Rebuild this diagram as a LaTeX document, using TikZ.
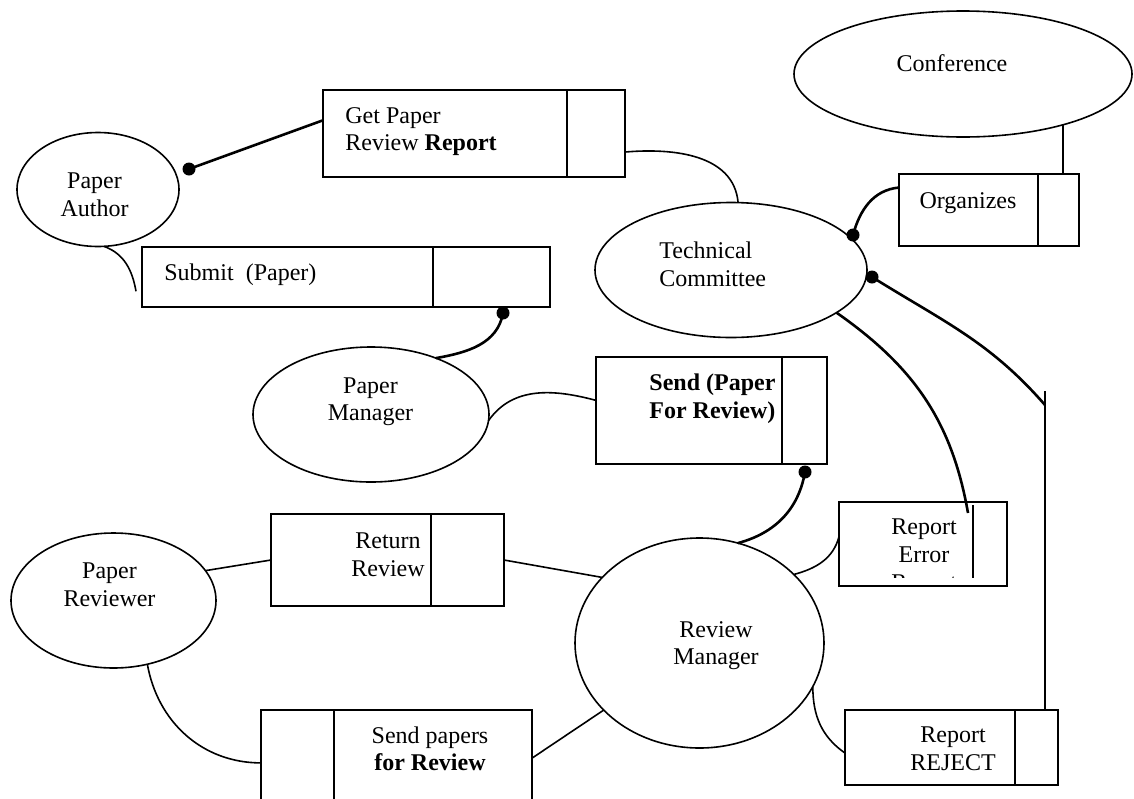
\documentclass[tikz,border=0pt]{standalone}
\usepackage{fontspec}
\setmainfont{Liberation Serif}
\usetikzlibrary{shapes.geometric}

\begin{document}
\begin{tikzpicture}[x=0.5pt,y=-0.5pt,
  entity/.style={draw,ellipse,line width=0.8pt,inner sep=0pt,outer sep=0pt},
  rel/.style={draw,rectangle,line width=1pt,inner sep=0pt,outer sep=0pt},
  lbl/.style={inner sep=0pt,align=center,font=\fontsize{12}{13.8}\selectfont},
  link/.style={line width=0.8pt},
  heavy/.style={line width=1.3pt},
  dot/.style={circle,fill,inner sep=0pt,minimum size=6.5pt}]
\useasboundingbox (0,0) rectangle (1134,798);
\clip (0,0) rectangle (1134,798);

\node[entity,minimum width=81pt,minimum height=57pt] (author) at (98,189.5) {};
\node[entity,minimum width=169pt,minimum height=63pt] (conf) at (963,74) {};
\node[entity,minimum width=136pt,minimum height=67.5pt] (tc) at (731,270) {};
\node[entity,minimum width=118pt,minimum height=67.5pt] (pm) at (371,414.5) {};
\node[entity,minimum width=102.5pt,minimum height=67.5pt] (reviewer) at (113.5,600.5) {};
\node[entity,minimum width=124.5pt,minimum height=105pt] (rm) at (699.5,643) {};

\node[rel,minimum width=151pt,minimum height=43.5pt] (gp) at (474,133.5) {};
\node[rel,minimum width=90pt,minimum height=36pt] (org) at (989,210) {};
\node[rel,minimum width=204pt,minimum height=30pt] (sub) at (346,277) {};
\node[rel,minimum width=115.5pt,minimum height=53.5pt] (send) at (711.5,410.5) {};
\node[rel,minimum width=116.5pt,minimum height=46pt] (ret) at (387.5,560) {};
\node[rel,minimum width=84pt,minimum height=42pt] (err) at (923,544) {};
\node[rel,minimum width=135.5pt,minimum height=60pt] (sp) at (396.5,770) {};
\node[rel,minimum width=106.5pt,minimum height=37.5pt] (rej) at (951.5,747.5) {};

% key column of each relationship box
\foreach \b/\x in {gp/567,org/1038,sub/433,send/782,ret/431,sp/334,rej/1015}
  \draw[line width=1pt] (\x,0 |- \b.north) -- (\x,0 |- \b.south);
\draw[line width=1pt] (973,505) -- (973,578);

\node[dot] (authdot) at (189,169) {};
\node[dot] (subdot) at (503,313) {};
\node[dot] (senddot) at (805,472) {};
\node[dot] (orgdot) at (853,235) {};
\node[dot] (tcdot) at (872,277) {};
\coordinate (bustop) at (1045,391);
\coordinate (busjoin) at (1045,405);
\coordinate (errhook) at (968,513);

\draw[heavy] (gp.175.3) -- (authdot.center);
\draw[link] (author.-84) to[out=-20,in=100] ([xshift=-3pt]sub.184);
\draw[heavy] (subdot.center) to[out=-100,in=10] (pm.41);
\draw[link] (pm.-3.6) to[out=55,in=165] (send.175.8);
\draw[heavy] (senddot.center) to[out=-100,in=15] (rm.69.8);
\draw[link] (err.175.2) to[out=-105,in=15] (rm.36.2);
\draw[link] (reviewer.18.8) -- (ret.west);
\draw[link] (ret.east) -- (rm.146.4);
\draw[link] (reviewer.-62.6) to[out=-80,in=180] (sp.177.5);
\draw[link] (sp.5.5) -- (rm.215.1);
\draw[link] (rm.-21.6) to[out=-90,in=145] (rej.183);
\draw[link] (gp.-7.4) to[out=5,in=95] (tc.84);
\draw[heavy] (org.166.9) to[out=185,in=75] (orgdot.center);
\draw[link] (conf.-27) -- (conf.-27 |- org.north);
\draw[heavy] (tcdot.center) to[out=-32,in=131] (busjoin);
\draw[link] (bustop) -- (bustop |- rej.north);
\draw[heavy] (tc.-22.5) to[out=-35,in=100] (errhook);

\node[lbl] (authorlbl) at (94.5,195) {Paper\\Author};
\node[lbl,anchor=base] (conflbl) at (952,71) {Conference};
\node[lbl,align=left,anchor=west] (tclbl) at (659,264) {Technical\\Committee};
\node[lbl] (pmlbl) at (370.5,401.6) {Paper\\Manager};
\node[lbl] (reviewerlbl) at (109.5,585) {Paper\\Reviewer};
\node[lbl] (rmlbl) at (716,645.6) {Review\\Manager};
\node[lbl,align=left,anchor=west] (gplbl) at (345,131.6) {Get Paper\\Review \textbf{Report}};
\node[lbl,anchor=base] (orglbl) at (968,208) {Organizes};
\node[lbl,anchor=base west] (sublbl) at (164,280) {Submit~~(Paper)};
\node[lbl,align=left,anchor=west] (sendlbl) at (649,398.5) {\textbf{Send (Paper}\\\textbf{For Review)}};
\node[lbl] (retlbl) at (388,554.5) {Return\\Review};
\node[lbl] (splbl) at (430,748.8) {Send papers\\\textbf{for Review}};
\node[lbl] (rejlbl) at (953,749) {Report\\REJECT};
\begin{scope}
  \clip (841,504) rectangle (1005,577);
  \node[lbl] (errlbl) at (924,557.2) {Report\\Error\\Report};
\end{scope}
\end{tikzpicture}
\end{document}
